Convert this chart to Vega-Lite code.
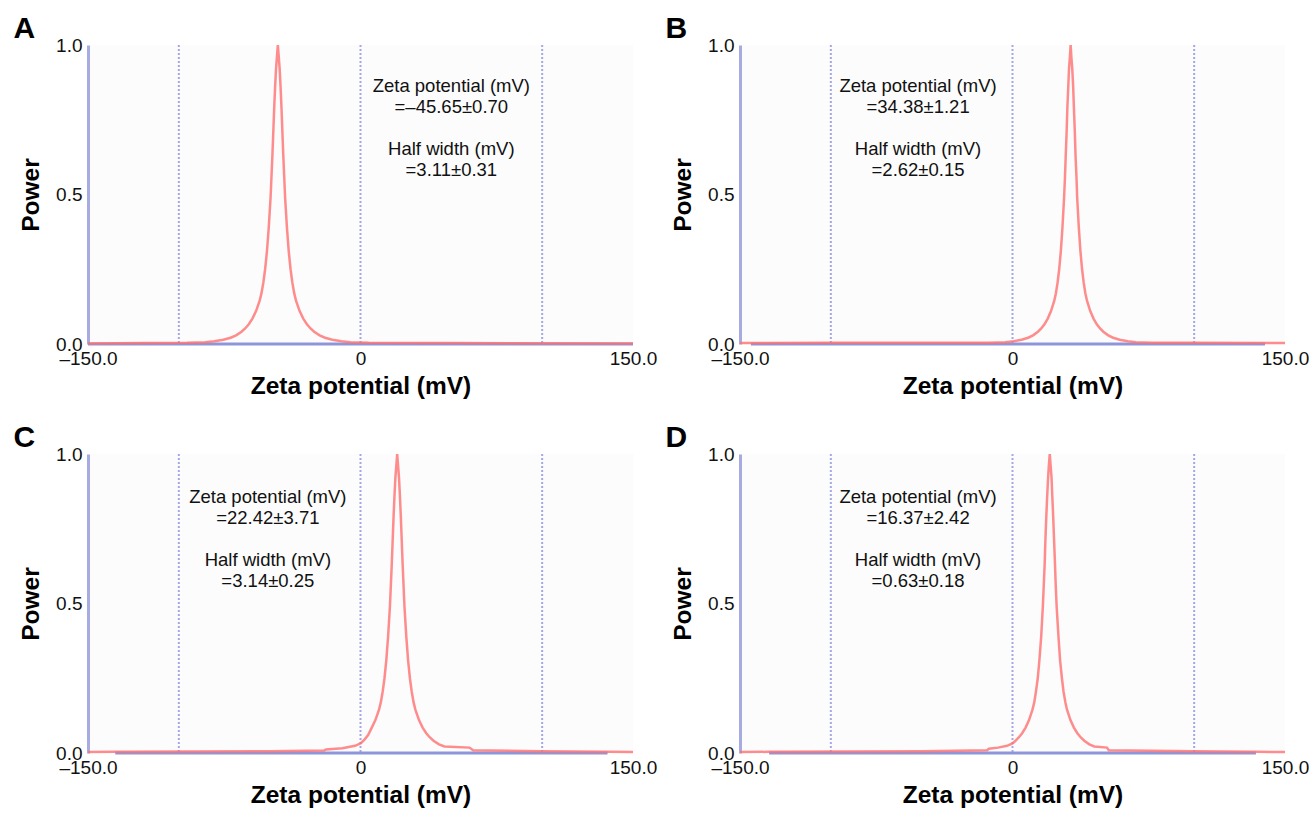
{
  "$schema": "https://vega.github.io/schema/vega-lite/v6.json",
  "background": "white",
  "padding": {"left": 13, "top": 14, "right": 0, "bottom": 2},
  "columns": 2,
  "spacing": {"row": 25, "column": 8},
  "config": {
    "view": {"fill": "#fcfcfc", "stroke": null},
    "font": "Liberation Sans",
    "axis": {"labelFont": "Liberation Sans", "labelFontSize": 19, "labelColor": "#111", "ticks": false, "grid": false, "labelFlush": false, "titleFont": "Liberation Sans", "titleFontSize": 24.5, "titleFontWeight": "bold", "titleColor": "#000"},
    "axisX": {"domain": false, "labelPadding": 5, "titlePadding": 6},
    "axisY": {"domainColor": "#a6ace2", "domainWidth": 3, "labelPadding": 6, "titlePadding": 12},
    "title": {"anchor": "start", "fontSize": 30, "fontWeight": "bold", "font": "Liberation Sans", "color": "#000", "offset": -8, "dx": -5},
    "text": {"font": "Liberation Sans", "fontSize": 18.5, "color": "#111"}
  },
  "datasets": {
    "grid": [{"zeta": -100}, {"zeta": 0}, {"zeta": 100}],
    "baseA": [{"zeta": -150, "power": 0}, {"zeta": 150, "power": 0}],
    "baseB": [{"zeta": -144, "power": 0}, {"zeta": 139, "power": 0}],
    "baseC": [{"zeta": -135, "power": 0}, {"zeta": 136, "power": 0}],
    "baseD": [{"zeta": -134, "power": 0}, {"zeta": 134, "power": 0}],
    "zetaA": [{"lines": ["Zeta potential (mV)", "=–45.65±0.70"]}],
    "halfA": [{"lines": ["Half width (mV)", "=3.11±0.31"]}],
    "zetaB": [{"lines": ["Zeta potential (mV)", "=34.38±1.21"]}],
    "halfB": [{"lines": ["Half width (mV)", "=2.62±0.15"]}],
    "zetaC": [{"lines": ["Zeta potential (mV)", "=22.42±3.71"]}],
    "halfC": [{"lines": ["Half width (mV)", "=3.14±0.25"]}],
    "zetaD": [{"lines": ["Zeta potential (mV)", "=16.37±2.42"]}],
    "halfD": [{"lines": ["Half width (mV)", "=0.63±0.18"]}],
    "curveA": [
      {"zeta": -150, "power": 0.002}, {"zeta": -120, "power": 0.003}, {"zeta": -95.5, "power": 0.004}, {"zeta": -85.5, "power": 0.006},
      {"zeta": -80.5, "power": 0.009}, {"zeta": -75.5, "power": 0.014}, {"zeta": -71.5, "power": 0.021}, {"zeta": -68.5, "power": 0.029},
      {"zeta": -65.5, "power": 0.041}, {"zeta": -63.5, "power": 0.052}, {"zeta": -61.5, "power": 0.066}, {"zeta": -59.5, "power": 0.085},
      {"zeta": -57.5, "power": 0.11}, {"zeta": -55.5, "power": 0.145}, {"zeta": -54.5, "power": 0.17}, {"zeta": -53.5, "power": 0.205},
      {"zeta": -52.5, "power": 0.25}, {"zeta": -51.5, "power": 0.31}, {"zeta": -50.5, "power": 0.39}, {"zeta": -49.5, "power": 0.49},
      {"zeta": -49, "power": 0.56}, {"zeta": -48.5, "power": 0.63}, {"zeta": -48, "power": 0.71}, {"zeta": -47.5, "power": 0.79},
      {"zeta": -47, "power": 0.86}, {"zeta": -46.5, "power": 0.92}, {"zeta": -46, "power": 0.96}, {"zeta": -45.5, "power": 1.0},
      {"zeta": -45, "power": 0.96}, {"zeta": -44.5, "power": 0.92}, {"zeta": -44, "power": 0.86}, {"zeta": -43.5, "power": 0.79},
      {"zeta": -43, "power": 0.71}, {"zeta": -42.5, "power": 0.63}, {"zeta": -42, "power": 0.56}, {"zeta": -41.5, "power": 0.49},
      {"zeta": -40.5, "power": 0.39}, {"zeta": -39.5, "power": 0.31}, {"zeta": -38.5, "power": 0.25}, {"zeta": -37.5, "power": 0.205},
      {"zeta": -36.5, "power": 0.17}, {"zeta": -35.5, "power": 0.145}, {"zeta": -33.5, "power": 0.11}, {"zeta": -31.5, "power": 0.085},
      {"zeta": -29.5, "power": 0.066}, {"zeta": -27.5, "power": 0.052}, {"zeta": -25.5, "power": 0.041}, {"zeta": -22.5, "power": 0.029},
      {"zeta": -19.5, "power": 0.021}, {"zeta": -15.5, "power": 0.014}, {"zeta": -10.5, "power": 0.009}, {"zeta": -5.5, "power": 0.006},
      {"zeta": 4.5, "power": 0.004}, {"zeta": 50, "power": 0.003}, {"zeta": 150, "power": 0.002}
    ],
    "curveB": [
      {"zeta": -150, "power": 0.003}, {"zeta": -100, "power": 0.004}, {"zeta": -13, "power": 0.004}, {"zeta": -4, "power": 0.006},
      {"zeta": 0.5, "power": 0.009}, {"zeta": 5, "power": 0.014}, {"zeta": 8.6, "power": 0.021}, {"zeta": 11.3, "power": 0.029},
      {"zeta": 14, "power": 0.041}, {"zeta": 15.8, "power": 0.052}, {"zeta": 17.6, "power": 0.066}, {"zeta": 19.4, "power": 0.085},
      {"zeta": 21.2, "power": 0.11}, {"zeta": 23, "power": 0.145}, {"zeta": 23.9, "power": 0.17}, {"zeta": 24.8, "power": 0.205},
      {"zeta": 25.7, "power": 0.25}, {"zeta": 26.6, "power": 0.31}, {"zeta": 27.5, "power": 0.39}, {"zeta": 28.4, "power": 0.49},
      {"zeta": 28.9, "power": 0.56}, {"zeta": 29.3, "power": 0.63}, {"zeta": 29.8, "power": 0.71}, {"zeta": 30.2, "power": 0.79},
      {"zeta": 30.7, "power": 0.86}, {"zeta": 31.1, "power": 0.92}, {"zeta": 31.6, "power": 0.96}, {"zeta": 32, "power": 1.0},
      {"zeta": 32.4, "power": 0.96}, {"zeta": 32.9, "power": 0.92}, {"zeta": 33.4, "power": 0.86}, {"zeta": 33.8, "power": 0.79},
      {"zeta": 34.3, "power": 0.71}, {"zeta": 34.7, "power": 0.63}, {"zeta": 35.2, "power": 0.56}, {"zeta": 35.6, "power": 0.49},
      {"zeta": 36.5, "power": 0.39}, {"zeta": 37.4, "power": 0.31}, {"zeta": 38.3, "power": 0.25}, {"zeta": 39.2, "power": 0.205},
      {"zeta": 40.1, "power": 0.17}, {"zeta": 41, "power": 0.145}, {"zeta": 42.8, "power": 0.11}, {"zeta": 44.6, "power": 0.085},
      {"zeta": 46.4, "power": 0.066}, {"zeta": 48.2, "power": 0.052}, {"zeta": 50, "power": 0.041}, {"zeta": 52.7, "power": 0.029},
      {"zeta": 55.4, "power": 0.021}, {"zeta": 59, "power": 0.014}, {"zeta": 63.5, "power": 0.009}, {"zeta": 68, "power": 0.006},
      {"zeta": 77, "power": 0.004}, {"zeta": 100, "power": 0.004}, {"zeta": 150, "power": 0.003}
    ],
    "curveC": [
      {"zeta": -150, "power": 0.003}, {"zeta": -135, "power": 0.004}, {"zeta": -50, "power": 0.006}, {"zeta": -20, "power": 0.008},
      {"zeta": -19, "power": 0.012}, {"zeta": -10, "power": 0.016}, {"zeta": -3, "power": 0.024}, {"zeta": 0.2, "power": 0.033},
      {"zeta": 2.2, "power": 0.045}, {"zeta": 4.2, "power": 0.06}, {"zeta": 6.2, "power": 0.085}, {"zeta": 8.2, "power": 0.11},
      {"zeta": 10.2, "power": 0.145}, {"zeta": 11.2, "power": 0.17}, {"zeta": 12.2, "power": 0.205}, {"zeta": 13.2, "power": 0.25},
      {"zeta": 14.2, "power": 0.31}, {"zeta": 15.2, "power": 0.39}, {"zeta": 16.2, "power": 0.49}, {"zeta": 16.7, "power": 0.56},
      {"zeta": 17.2, "power": 0.63}, {"zeta": 17.7, "power": 0.71}, {"zeta": 18.2, "power": 0.79}, {"zeta": 18.7, "power": 0.86},
      {"zeta": 19.2, "power": 0.92}, {"zeta": 19.7, "power": 0.96}, {"zeta": 20.2, "power": 1.0}, {"zeta": 20.7, "power": 0.96},
      {"zeta": 21.2, "power": 0.92}, {"zeta": 21.7, "power": 0.86}, {"zeta": 22.2, "power": 0.79}, {"zeta": 22.7, "power": 0.71},
      {"zeta": 23.2, "power": 0.63}, {"zeta": 23.7, "power": 0.56}, {"zeta": 24.2, "power": 0.49}, {"zeta": 25.2, "power": 0.39},
      {"zeta": 26.2, "power": 0.31}, {"zeta": 27.2, "power": 0.25}, {"zeta": 28.2, "power": 0.205}, {"zeta": 29.2, "power": 0.17},
      {"zeta": 30.2, "power": 0.145}, {"zeta": 32.2, "power": 0.11}, {"zeta": 34.2, "power": 0.085}, {"zeta": 36.2, "power": 0.066},
      {"zeta": 38.2, "power": 0.052}, {"zeta": 40.2, "power": 0.041}, {"zeta": 43.2, "power": 0.029}, {"zeta": 46.2, "power": 0.022},
      {"zeta": 60, "power": 0.018}, {"zeta": 62, "power": 0.009}, {"zeta": 100, "power": 0.006}, {"zeta": 136, "power": 0.004},
      {"zeta": 150, "power": 0.003}
    ],
    "curveD": [
      {"zeta": -150, "power": 0.003}, {"zeta": -134, "power": 0.004}, {"zeta": -50, "power": 0.006}, {"zeta": -14, "power": 0.009},
      {"zeta": -13, "power": 0.014}, {"zeta": -8, "power": 0.018}, {"zeta": -3, "power": 0.024}, {"zeta": 0, "power": 0.032},
      {"zeta": 1.5, "power": 0.04}, {"zeta": 3.4, "power": 0.052}, {"zeta": 5.3, "power": 0.066}, {"zeta": 7.2, "power": 0.085},
      {"zeta": 9.1, "power": 0.11}, {"zeta": 11, "power": 0.145}, {"zeta": 12, "power": 0.17}, {"zeta": 12.9, "power": 0.205},
      {"zeta": 13.9, "power": 0.25}, {"zeta": 14.8, "power": 0.31}, {"zeta": 15.8, "power": 0.39}, {"zeta": 16.7, "power": 0.49},
      {"zeta": 17.2, "power": 0.56}, {"zeta": 17.7, "power": 0.63}, {"zeta": 18.1, "power": 0.71}, {"zeta": 18.6, "power": 0.79},
      {"zeta": 19.1, "power": 0.86}, {"zeta": 19.6, "power": 0.92}, {"zeta": 20.0, "power": 0.96}, {"zeta": 20.5, "power": 1.0},
      {"zeta": 21.0, "power": 0.96}, {"zeta": 21.5, "power": 0.92}, {"zeta": 21.9, "power": 0.86}, {"zeta": 22.4, "power": 0.79},
      {"zeta": 22.9, "power": 0.71}, {"zeta": 23.4, "power": 0.63}, {"zeta": 23.8, "power": 0.56}, {"zeta": 24.3, "power": 0.49},
      {"zeta": 25.3, "power": 0.39}, {"zeta": 26.2, "power": 0.31}, {"zeta": 27.2, "power": 0.25}, {"zeta": 28.1, "power": 0.205},
      {"zeta": 29.1, "power": 0.17}, {"zeta": 30, "power": 0.145}, {"zeta": 31.9, "power": 0.11}, {"zeta": 33.8, "power": 0.085},
      {"zeta": 35.7, "power": 0.066}, {"zeta": 37.6, "power": 0.052}, {"zeta": 39.5, "power": 0.041}, {"zeta": 42.3, "power": 0.029},
      {"zeta": 45, "power": 0.022}, {"zeta": 52, "power": 0.018}, {"zeta": 53, "power": 0.009}, {"zeta": 100, "power": 0.006},
      {"zeta": 134, "power": 0.004}, {"zeta": 150, "power": 0.003}
    ]
  },
  "concat": [
    {
      "title": {"text": "A"},
      "width": 545, "height": 299,
      "layer": [
        {"data": {"name": "grid"}, "mark": {"type": "rule", "color": "#a3a7e4", "strokeWidth": 2, "strokeDash": [2, 2]},
         "encoding": {"x": {"field": "zeta", "type": "quantitative", "scale": {"domain": [-150, 150], "nice": false, "zero": false}, "title": "Zeta potential (mV)", "axis": {"values": [-150, 0, 150], "labelExpr": "datum.value == 0 ? '0' : (datum.value < 0 ? '–' : '') + format(abs(datum.value), '.1f')"}}}},
        {"data": {"name": "baseA"}, "mark": {"type": "line", "color": "#8e96da", "strokeWidth": 3},
         "encoding": {"x": {"field": "zeta", "type": "quantitative", "title": "Zeta potential (mV)"}, "y": {"field": "power", "type": "quantitative", "scale": {"domain": [0, 1], "nice": false}, "title": "Power", "axis": {"values": [0, 0.5, 1], "format": ".1f"}}}},
        {"data": {"name": "curveA"}, "mark": {"type": "line", "color": "#ff6f6f", "strokeWidth": 2.5, "opacity": 0.8},
         "encoding": {"x": {"field": "zeta", "type": "quantitative", "title": "Zeta potential (mV)"}, "y": {"field": "power", "type": "quantitative", "title": "Power"}}},
        {"data": {"name": "zetaA"}, "mark": {"type": "text", "lineHeight": 21, "baseline": "top", "align": "center"},
         "encoding": {"x": {"datum": 50}, "y": {"datum": 0.892}, "text": {"field": "lines", "type": "nominal"}}},
        {"data": {"name": "halfA"}, "mark": {"type": "text", "lineHeight": 21, "baseline": "top", "align": "center"},
         "encoding": {"x": {"datum": 50}, "y": {"datum": 0.681}, "text": {"field": "lines", "type": "nominal"}}}
      ]
    },
    {
      "title": {"text": "B"},
      "width": 545, "height": 299,
      "layer": [
        {"data": {"name": "grid"}, "mark": {"type": "rule", "color": "#a3a7e4", "strokeWidth": 2, "strokeDash": [2, 2]},
         "encoding": {"x": {"field": "zeta", "type": "quantitative", "scale": {"domain": [-150, 150], "nice": false, "zero": false}, "title": "Zeta potential (mV)", "axis": {"values": [-150, 0, 150], "labelExpr": "datum.value == 0 ? '0' : (datum.value < 0 ? '–' : '') + format(abs(datum.value), '.1f')"}}}},
        {"data": {"name": "baseB"}, "mark": {"type": "line", "color": "#8e96da", "strokeWidth": 3},
         "encoding": {"x": {"field": "zeta", "type": "quantitative", "title": "Zeta potential (mV)"}, "y": {"field": "power", "type": "quantitative", "scale": {"domain": [0, 1], "nice": false}, "title": "Power", "axis": {"values": [0, 0.5, 1], "format": ".1f"}}}},
        {"data": {"name": "curveB"}, "mark": {"type": "line", "color": "#ff6f6f", "strokeWidth": 2.5, "opacity": 0.8},
         "encoding": {"x": {"field": "zeta", "type": "quantitative", "title": "Zeta potential (mV)"}, "y": {"field": "power", "type": "quantitative", "title": "Power"}}},
        {"data": {"name": "zetaB"}, "mark": {"type": "text", "lineHeight": 21, "baseline": "top", "align": "center"},
         "encoding": {"x": {"datum": -52}, "y": {"datum": 0.892}, "text": {"field": "lines", "type": "nominal"}}},
        {"data": {"name": "halfB"}, "mark": {"type": "text", "lineHeight": 21, "baseline": "top", "align": "center"},
         "encoding": {"x": {"datum": -52}, "y": {"datum": 0.681}, "text": {"field": "lines", "type": "nominal"}}}
      ]
    },
    {
      "title": {"text": "C"},
      "width": 545, "height": 299,
      "layer": [
        {"data": {"name": "grid"}, "mark": {"type": "rule", "color": "#a3a7e4", "strokeWidth": 2, "strokeDash": [2, 2]},
         "encoding": {"x": {"field": "zeta", "type": "quantitative", "scale": {"domain": [-150, 150], "nice": false, "zero": false}, "title": "Zeta potential (mV)", "axis": {"values": [-150, 0, 150], "labelExpr": "datum.value == 0 ? '0' : (datum.value < 0 ? '–' : '') + format(abs(datum.value), '.1f')"}}}},
        {"data": {"name": "baseC"}, "mark": {"type": "line", "color": "#8e96da", "strokeWidth": 3},
         "encoding": {"x": {"field": "zeta", "type": "quantitative", "title": "Zeta potential (mV)"}, "y": {"field": "power", "type": "quantitative", "scale": {"domain": [0, 1], "nice": false}, "title": "Power", "axis": {"values": [0, 0.5, 1], "format": ".1f"}}}},
        {"data": {"name": "curveC"}, "mark": {"type": "line", "color": "#ff6f6f", "strokeWidth": 2.5, "opacity": 0.8},
         "encoding": {"x": {"field": "zeta", "type": "quantitative", "title": "Zeta potential (mV)"}, "y": {"field": "power", "type": "quantitative", "title": "Power"}}},
        {"data": {"name": "zetaC"}, "mark": {"type": "text", "lineHeight": 21, "baseline": "top", "align": "center"},
         "encoding": {"x": {"datum": -51}, "y": {"datum": 0.886}, "text": {"field": "lines", "type": "nominal"}}},
        {"data": {"name": "halfC"}, "mark": {"type": "text", "lineHeight": 21, "baseline": "top", "align": "center"},
         "encoding": {"x": {"datum": -51}, "y": {"datum": 0.676}, "text": {"field": "lines", "type": "nominal"}}}
      ]
    },
    {
      "title": {"text": "D"},
      "width": 545, "height": 299,
      "layer": [
        {"data": {"name": "grid"}, "mark": {"type": "rule", "color": "#a3a7e4", "strokeWidth": 2, "strokeDash": [2, 2]},
         "encoding": {"x": {"field": "zeta", "type": "quantitative", "scale": {"domain": [-150, 150], "nice": false, "zero": false}, "title": "Zeta potential (mV)", "axis": {"values": [-150, 0, 150], "labelExpr": "datum.value == 0 ? '0' : (datum.value < 0 ? '–' : '') + format(abs(datum.value), '.1f')"}}}},
        {"data": {"name": "baseD"}, "mark": {"type": "line", "color": "#8e96da", "strokeWidth": 3},
         "encoding": {"x": {"field": "zeta", "type": "quantitative", "title": "Zeta potential (mV)"}, "y": {"field": "power", "type": "quantitative", "scale": {"domain": [0, 1], "nice": false}, "title": "Power", "axis": {"values": [0, 0.5, 1], "format": ".1f"}}}},
        {"data": {"name": "curveD"}, "mark": {"type": "line", "color": "#ff6f6f", "strokeWidth": 2.5, "opacity": 0.8},
         "encoding": {"x": {"field": "zeta", "type": "quantitative", "title": "Zeta potential (mV)"}, "y": {"field": "power", "type": "quantitative", "title": "Power"}}},
        {"data": {"name": "zetaD"}, "mark": {"type": "text", "lineHeight": 21, "baseline": "top", "align": "center"},
         "encoding": {"x": {"datum": -52}, "y": {"datum": 0.886}, "text": {"field": "lines", "type": "nominal"}}},
        {"data": {"name": "halfD"}, "mark": {"type": "text", "lineHeight": 21, "baseline": "top", "align": "center"},
         "encoding": {"x": {"datum": -52}, "y": {"datum": 0.676}, "text": {"field": "lines", "type": "nominal"}}}
      ]
    }
  ]
}
